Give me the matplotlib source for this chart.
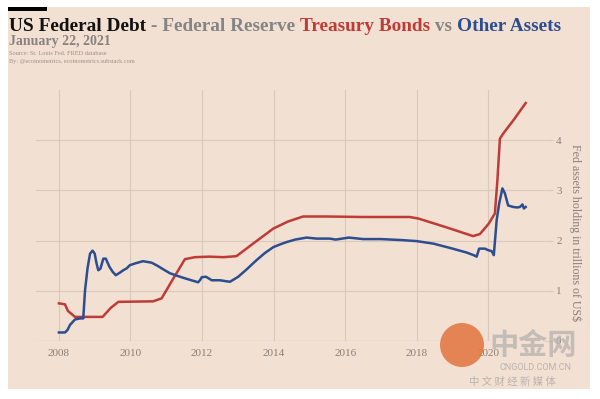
import matplotlib
matplotlib.use("Agg")
import matplotlib.pyplot as plt
from matplotlib.patches import Rectangle, Ellipse

# Fed holdings, trillions of US$
treasury_years = [2008.0, 2008.17, 2008.25, 2008.45, 2009.22, 2009.45, 2009.66, 2010.63,
                  2010.87, 2011.2, 2011.52, 2011.8, 2012.2, 2012.6, 2012.96, 2013.5,
                  2013.99, 2014.4, 2014.82, 2015.5, 2016.5, 2017.5, 2017.8, 2018.04,
                  2018.8, 2019.57, 2019.76, 2020.0, 2020.18, 2020.25, 2020.32, 2020.41,
                  2020.7, 2021.04]
treasury_vals = [0.75, 0.73, 0.60, 0.48, 0.48, 0.66, 0.78, 0.79,
                 0.85, 1.25, 1.63, 1.67, 1.68, 1.67, 1.69, 1.98,
                 2.24, 2.38, 2.48, 2.48, 2.47, 2.47, 2.47, 2.44,
                 2.27, 2.09, 2.13, 2.33, 2.54, 3.2, 4.03, 4.13,
                 4.40, 4.74]

other_years = [2008.0, 2008.17, 2008.24, 2008.31, 2008.45, 2008.6, 2008.68, 2008.73, 2008.8,
               2008.87, 2008.94, 2009.0, 2009.05, 2009.1, 2009.16, 2009.24, 2009.31,
               2009.41, 2009.5, 2009.59, 2009.7, 2009.8, 2009.9, 2009.98, 2010.15,
               2010.35, 2010.59, 2010.75, 2010.91, 2011.1, 2011.3, 2011.47, 2011.7,
               2011.89, 2011.95, 2011.99, 2012.11, 2012.27, 2012.5, 2012.68, 2012.78,
               2013.01, 2013.25, 2013.52, 2013.75, 2013.99, 2014.2, 2014.36, 2014.6,
               2014.92, 2015.2, 2015.57, 2015.73, 2016.1, 2016.5, 2017.0, 2017.59,
               2017.99, 2018.46, 2019.0, 2019.4, 2019.62, 2019.67, 2019.74, 2019.9,
               2019.99, 2020.09, 2020.15, 2020.23, 2020.30, 2020.39, 2020.46, 2020.55,
               2020.69, 2020.8, 2020.88, 2020.95, 2020.99, 2021.04]
other_vals = [0.17, 0.17, 0.22, 0.32, 0.43, 0.45, 0.45, 1.01, 1.45,
              1.74, 1.80, 1.74, 1.55, 1.41, 1.44, 1.64, 1.64,
              1.48, 1.38, 1.31, 1.36, 1.41, 1.45, 1.51, 1.55,
              1.59, 1.56, 1.50, 1.43, 1.35, 1.30, 1.26, 1.21,
              1.17, 1.22, 1.27, 1.28, 1.21, 1.21, 1.19, 1.18,
              1.28, 1.43, 1.61, 1.75, 1.87, 1.93, 1.97, 2.02,
              2.06, 2.04, 2.04, 2.02, 2.06, 2.03, 2.03, 2.01,
              1.99, 1.94, 1.84, 1.76, 1.70, 1.68, 1.84, 1.84,
              1.81, 1.79, 1.71, 2.41, 2.74, 3.04, 2.94, 2.70,
              2.67, 2.66, 2.67, 2.72, 2.64, 2.67]

x_ticks = [2008, 2010, 2012, 2014, 2016, 2018, 2020]
y_ticks = [0, 1, 2, 3, 4]

bg = "#f2e0d3"
red = "#bf3b36"
blue = "#2c4d8e"
grey = "#8a7f7a"
grid_c = "#d8c8bd"

plt.rcParams["font.family"] = ["Liberation Serif", "DejaVu Serif"]

fig = plt.figure(figsize=(6, 3.99), dpi=100, facecolor="white")
W, H = 600, 399
fig.patches.append(Rectangle((8 / W, 1 - 389 / H), 582 / W, 382 / H,
                             transform=fig.transFigure, facecolor=bg, edgecolor="none", zorder=-5))
fig.patches.append(Rectangle((8 / W, 1 - 11 / H), 39 / W, 4 / H,
                             transform=fig.transFigure, facecolor="black", edgecolor="none", zorder=1))

ax = fig.add_axes([36 / W, 1 - 341 / H, 509 / W, 251 / H])
ax.set_facecolor("none")
ax.plot(treasury_years, treasury_vals, color=red, lw=1.8, zorder=3)
ax.plot(other_years, other_vals, color=blue, lw=1.8, zorder=4)
ax.set_xlim(2007.36, 2021.58)
ax.set_ylim(0, 5)
ax.set_xticks(x_ticks)
ax.set_yticks(y_ticks)
ax.yaxis.tick_right()
ax.tick_params(axis="x", length=0, pad=6, labelsize=8, labelcolor=grey)
ax.tick_params(axis="y", length=6, width=0.8, color=grid_c, pad=2, labelsize=8, labelcolor=grey)
ax.grid(True, color=grid_c, lw=0.8)
for s in ax.spines.values():
    s.set_visible(False)
ax.axhline(0, color=grid_c, lw=0.8, zorder=1)

fig.text(575 / W, 1 - 233 / H, "Fed assets holding in trillions of US$", rotation=270,
         ha="center", va="center", fontsize=8.6, color=grey)

# title in several colours, sized to span the same width as the original
fig.canvas.draw()
r = fig.canvas.get_renderer()
parts = [("US Federal Debt", "#111111"), (" - Federal Reserve ", "#858585"),
         ("Treasury Bonds", red), (" vs ", "#858585"), ("Other Assets", blue)]
probe = fig.text(0, 0, "".join(p[0] for p in parts), fontsize=10, fontweight="bold")
size = 10 * 554 / probe.get_window_extent(r).width
probe.remove()
x = 9
for txt, c in parts:
    t = fig.text(x / W, 1 - 31 / H, txt, color=c, fontsize=size, fontweight="bold", va="baseline")
    x += t.get_window_extent(r).width

fig.text(9 / W, 1 - 45 / H, "January 22, 2021", color="#8a8280", fontsize=10, fontweight="bold",
         va="baseline")
fig.text(9 / W, 1 - 55 / H, "Source: St. Louis Fed. FRED database", color="#9a908b", fontsize=4.5,
         va="baseline")
fig.text(9 / W, 1 - 63 / H, "By: @ecoinometrics, ecoinometrics.substack.com", color="#9a908b",
         fontsize=4.5, va="baseline")

# watermark
fig.patches.append(Ellipse((462 / W, 1 - 345 / H), 44 / W, 44 / H, transform=fig.transFigure,
                           facecolor="#e2733d", edgecolor="none", alpha=0.85, zorder=5))
cjk = ["Noto Sans CJK SC", "DejaVu Sans"]
fig.text(533 / W, 1 - 345 / H, "中金网", family=cjk, fontsize=21, fontweight="bold",
         color="#b9b3b0", alpha=0.8, ha="center", va="center", zorder=6)
fig.text(535 / W, 1 - 368 / H, "CNGOLD.COM.CN", family=["Roboto", "DejaVu Sans"], fontsize=6.5,
         color="#b9b3b0", ha="center", va="center", zorder=6)
fig.text(512 / W, 1 - 382 / H, "中 文 财 经 新 媒 体", family=cjk, fontsize=7.5,
         color="#b9b3b0", ha="center", va="center", zorder=6)

fig.savefig("out.png", dpi=100, facecolor="white")
